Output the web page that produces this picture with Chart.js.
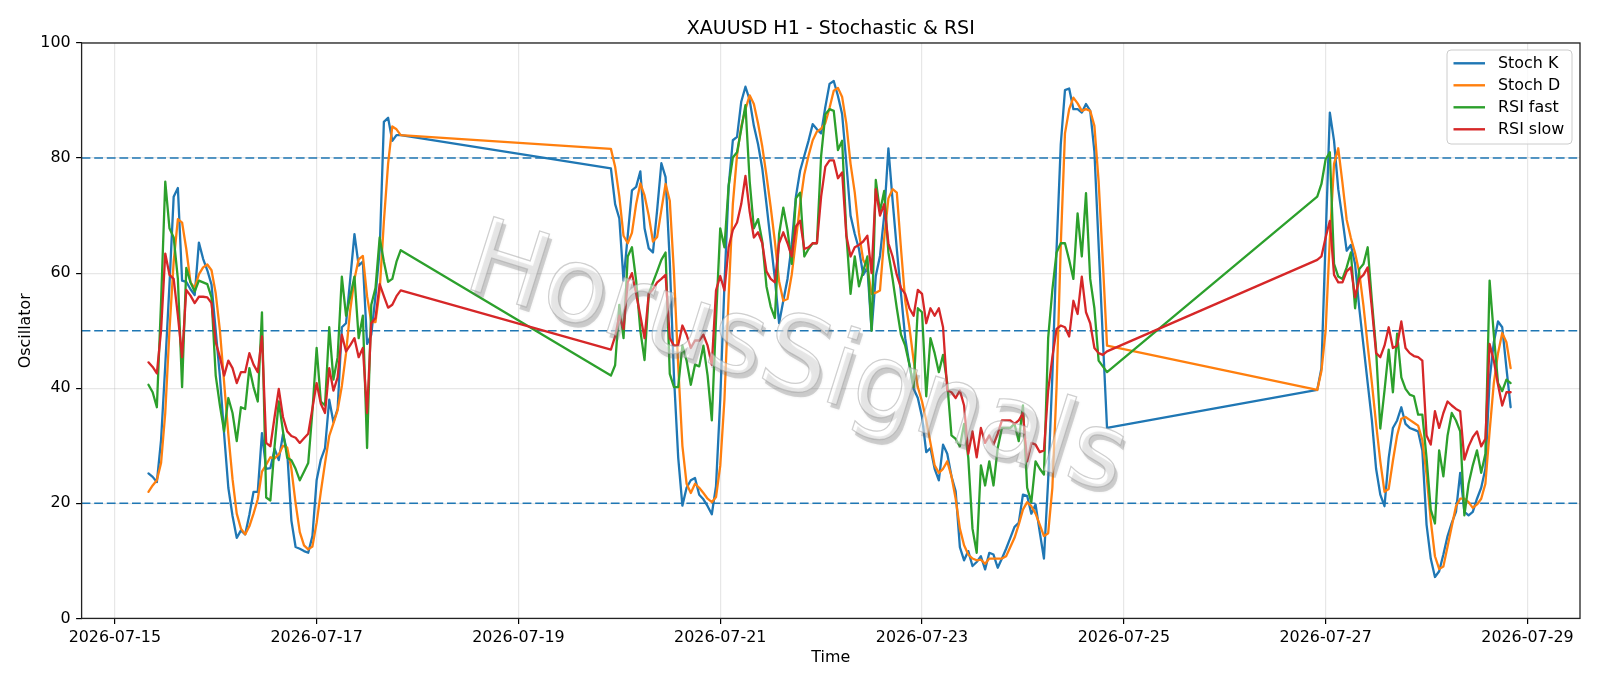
<!DOCTYPE html>
<html>
<head>
<meta charset="utf-8">
<script src="https://cdn.jsdelivr.net/npm/chart.js@4.4.1/dist/chart.umd.min.js"></script>
<style>
  html, body { margin: 0; padding: 0; background: #fff; }
  #wrap { width: 1600px; height: 686px; }
</style>
</head>
<body>
<div id="wrap"><canvas id="c" width="1600" height="686"></canvas></div>
<script>
// hourly bars; hours counted from 2026-07-15 00:00, weekends have no bars
const segStart = [8, 118, 286];
const segLength = [61, 119, 47];

const stochK = [
  25.2, 24.6, 23.7, 31, 44, 58, 73.3, 74.8, 58.7, 58.5,
  57.2, 56.2, 65.3, 62.5, 60.5, 58, 50, 42, 32, 22.7,
  17.8, 14, 15.3, 14.6, 18, 22, 22, 32.2, 26, 26.1,
  29.5, 27.5, 32, 29, 17, 12.4, 12.1, 11.7, 11.4, 14.3,
  24, 27.6, 29.6, 38, 34.1, 36.4, 50.6, 51.3, 59, 66.8,
  61.3, 62, 47.7, 49.3, 56, 64, 86.3, 87, 83, 84,
  84,
  78.2, 72, 69.5, 58.7, 66.5, 74.4, 75, 77.7, 67.8, 64.3,
  63.6, 71, 79.1, 76.7, 62, 42, 28, 19.6, 22.7, 24,
  24.4, 21.5, 20.7, 19.5, 18.1, 23, 38, 58, 75, 83.1,
  83.7, 89.8, 92.4, 90.1, 85.6, 82.4, 78.2, 72, 65.5, 59,
  51.3, 55.2, 59, 64.9, 73.3, 77.8, 80.4, 83, 85.9, 85,
  84.3, 88.9, 92.9, 93.4, 90.8, 87.6, 79.1, 70, 66.8, 64.2,
  59.7, 61, 50, 59.5, 63, 70, 81.7, 72.6, 64.2, 56.4,
  48.7, 44.1, 39.9, 38.3, 35, 28.9, 29.6, 26, 24, 30.2,
  28.6, 24.7, 22.1, 12.4, 10.1, 11.7, 9.1, 9.8, 10.8, 8.5,
  11.4, 11.1, 8.8, 10.4, 12.1, 14, 15.9, 16.6, 21.5, 21.3,
  18.2, 19.8, 15, 10.4, 24, 42.2, 64.2, 82.4, 91.8, 92.1,
  88.5, 88.5, 87.9, 89.4, 88.2, 81.1, 64.9, 48.7, 33.1,
  39.7, 43.5, 66, 87.9, 83, 74.6, 69.4, 63.9, 64.9, 61.6,
  53.9, 47.4, 40.9, 34.4, 26, 21.5, 19.5, 27.9, 33.1, 34.4,
  36.7, 33.8, 33.1, 32.8, 32.5, 29.2, 16.3, 10.4, 7.2, 8.2,
  11.1, 14.3, 16.6, 18.5, 25.3, 18.5, 17.9, 18.5, 20.8, 22.7,
  26, 41.5, 48, 51.6, 50.6, 43.5, 36.7
];

const stochD = [
  22, 23.1, 24, 27, 35.7, 50, 62, 69.4, 68.8, 64.2,
  58.4, 57.4, 59.8, 61, 61.5, 60.5, 56.5, 50, 41, 32,
  24.2, 18.2, 15.6, 14.6, 16, 18.2, 20.7, 25.5, 26.7, 28,
  27.8, 28.5, 30, 29.7, 26, 20, 15, 12.7, 12, 12.5,
  16.6, 22, 27, 31.7, 33.9, 36.2, 40.4, 46.1, 53.6, 59,
  62.4, 63, 56, 51.5, 51.5, 57, 69, 79, 85.5, 85,
  84,
  81.6, 78.5, 73.3, 66.5, 65.2, 67, 72, 75.6, 73.5, 70,
  65.5, 66.3, 71, 75.5, 72.6, 60, 44, 30, 23.4, 21.8,
  23.4, 22.7, 21.8, 20.8, 20.2, 21.1, 26.5, 38, 56, 72,
  80.5, 85.5, 88.5, 90.9, 89.4, 86, 82, 77, 71.5, 65.5,
  58.6, 55.2, 55.5, 59.7, 65.7, 72, 77.2, 80.4, 83.1, 84.6,
  85.1, 86.1, 88.7, 91.7, 92.2, 90.6, 86, 79, 74, 67,
  62.3, 61, 56.4, 56.6, 57, 66, 73, 74.6, 74, 64.2,
  55.2, 50.6, 44.8, 40.2, 37.7, 34.4, 30.5, 26.6, 25.3, 26,
  27.3, 24.7, 20.8, 15.6, 12.7, 11.1, 10.4, 10.1, 10.2, 9.5,
  10.4, 10.4, 10.4, 10.4, 10.8, 12.4, 14, 16.3, 18.9, 20.2,
  19.5, 18.2, 16.3, 14.3, 14.8, 22.7, 40.2, 64.9, 84.3, 88.5,
  90.5, 89.5, 88.2, 88.5, 88.2, 85.6, 76, 62, 47.4,
  39.7, 43, 50, 66, 79, 81.7, 75.7, 69.3, 66.1, 63.5,
  60.1, 54.3, 47.4, 40.9, 33.8, 27.3, 22, 22.5, 27.4, 31.8,
  34.7, 35, 34.5, 34, 33.5, 31, 25, 17, 10.8, 8.6,
  9, 12.5, 16, 19.5, 20.8, 20.8, 20.2, 19.2, 19.8, 20.8,
  23.4, 32.5, 40.9, 46.1, 49.6, 48, 43.5
];

const rsiFast = [
  40.6, 39.3, 36.7, 55, 75.9, 67.8, 66.2, 59, 40.2, 60.9,
  58.4, 56.8, 58.7, 58.4, 58.1, 55.8, 42.2, 37, 32.5, 38.3,
  35.7, 30.8, 36.7, 36.4, 43.5, 40.2, 37.7, 53.2, 21, 20.5,
  29.9, 37.7, 32.5, 27.9, 27.5, 26, 24, 25.5, 27, 36,
  47, 37.7, 37, 50.6, 41.5, 45.4, 59.4, 52.6, 56, 59.4,
  48.7, 52.6, 29.6, 54.5, 57.4, 66.2, 62, 58.5, 59, 62,
  64,
  42.2, 44, 54.5, 48.7, 62.9, 64.5, 58.7, 50, 44.9, 56.4,
  58.4, 60.3, 62.3, 63.6, 42.5, 40.2, 40.2, 47.4, 44.8, 40.6,
  44.1, 43.8, 47.4, 42.2, 34.4, 52, 67.8, 64.5, 75.2, 80.1,
  81, 85, 89.2, 76, 67.8, 69.4, 65.5, 57.7, 54.2, 52.2,
  66.8, 71.4, 67.5, 61.6, 73, 74, 62.9, 64.2, 65.2, 65.2,
  80.4, 87.6, 88.5, 88.2, 81.4, 83, 66.8, 56.4, 62.9, 57.7,
  60.3, 62.9, 50, 76.2, 70.7, 74.3, 63.6, 59, 53.9, 49.3,
  47.4, 44.1, 40.2, 53.9, 53.2, 38.6, 48.7, 46.1, 42.8, 45.8,
  40.9, 31.8, 31.2, 29.9, 33.8, 27.9, 15.6, 11.4, 26.6, 23.1,
  27.3, 23.1, 29.6, 33.1, 33.1, 33.1, 33.8, 30.8, 37, 22.7,
  20.2, 27.3, 26, 25, 48.7, 57.1, 63.6, 65.2, 65.2, 62.3,
  59, 70.4, 62.9, 73.9, 59, 53.9, 44.8, 43.8, 42.8,
  73.3, 75.5, 79.8, 81, 61.6, 59.4, 59, 61, 63.6, 53.9,
  60.7, 61.6, 64.5, 55.2, 46.7, 33, 39.6, 46.7, 39.3, 49.5,
  41.9, 39.9, 38.9, 38.6, 35.4, 35.4, 27.9, 18.9, 16.5, 29.2,
  24.7, 31.8, 35.7, 34.4, 32.5, 17.9, 23.4, 26.6, 29.2, 25.3,
  28.6, 58.7, 49.3, 40.9, 39.5, 41.5, 40.9
];

const rsiSlow = [
  44.5, 43.7, 42.6, 50, 63.4, 59.7, 59, 52.6, 45.4, 57.1,
  56.1, 54.8, 55.9, 55.9, 55.8, 54.8, 48, 45.4, 42.2, 44.8,
  43.5, 40.9, 42.8, 42.8, 46.1, 44.1, 42.8, 49, 30.5, 29.9,
  35, 39.9, 35, 32.5, 31.7, 31.4, 30.5, 31.3, 32.1, 36.5,
  40.9, 37.3, 35.7, 43.5, 39.6, 41.9, 49.3, 46.4, 47.5, 48.7,
  45.4, 47, 35.7, 51.3, 52.2, 58.1, 56, 54, 54.5, 56,
  57,
  46.7, 49, 52.6, 50.3, 58.4, 60, 56.4, 52.6, 48.7, 56.4,
  57.2, 58.4, 59, 59.7, 48.7, 47.4, 47.5, 50.9, 49.3, 47,
  48.3, 48.3, 49.3, 47.4, 44.1, 57, 59.5, 57, 64.5, 67.5,
  68.8, 72, 76.9, 70.7, 66.2, 67.1, 65.2, 60.3, 59, 58.4,
  65.2, 67.1, 65.2, 62.9, 68.1, 69.1, 64.2, 64.5, 65.2, 65.2,
  73.3, 78.5, 79.6, 79.6, 76.5, 77.5, 66.5, 62.9, 64.5, 64.9,
  65.5, 66.5, 60, 74.6, 70, 72, 65.2, 62.9, 59.7, 57.4,
  56.4, 53.9, 52.6, 57.1, 56.4, 51.3, 53.9, 52.6, 53.9, 50.6,
  39.6, 39.3, 38.3, 39.6, 37, 28.6, 32.5, 28, 33.1, 30.5,
  31.8, 30.2, 32.1, 34.4, 34.4, 34.4, 33.8, 34.4, 35.7, 27.3,
  30.5, 30.2, 28.9, 29.2, 39.6, 45.4, 50.3, 50.9, 50.6, 49,
  55.2, 52.9, 59.4, 53.2, 51.3, 47, 46.1, 45.8, 46.4,
  62.3, 62.9, 66.2, 69.1, 59.7, 58.4, 58.4, 60.3, 61, 55.8,
  59, 59.7, 61, 53.9, 46.1, 45.4, 47.4, 50.6, 47, 47.4,
  51.6, 47, 46.1, 45.6, 45.4, 44.8, 31.8, 30.2, 36, 33.1,
  35.7, 37.7, 37, 36.4, 36, 27.6, 29.9, 31.5, 32.5, 29.9,
  31.2, 47.7, 44.8, 40.6, 37, 39.3, 39.3
];

const levels = [20, 50, 80];
const xTickHours = [0, 48, 96, 144, 192, 240, 288, 336];
const xTickLabels = ['2026-07-15', '2026-07-17', '2026-07-19', '2026-07-21',
  '2026-07-23', '2026-07-25', '2026-07-27', '2026-07-29'];

const hours = [];
segStart.forEach((s, i) => {
  for (let k = 0; k < segLength[i]; k++) hours.push(s + k);
});
const pts = arr => arr.map((v, i) => ({x: hours[i], y: v}));

const font = 'DejaVu Sans';

const extras = {
  id: 'extras',
  beforeDatasetsDraw(chart) {
    const {ctx, chartArea: a, scales: {y}} = chart;
    ctx.save();
    ctx.strokeStyle = '#1f77b4';
    ctx.lineWidth = 1.5;
    ctx.setLineDash([8.8, 3.8]);
    levels.forEach(v => {
      const py = y.getPixelForValue(v);
      ctx.beginPath();
      ctx.moveTo(a.left, py);
      ctx.lineTo(a.right, py);
      ctx.stroke();
    });
    ctx.restore();
  },
  afterDatasetsDraw(chart) {
    const {ctx, chartArea: a} = chart;
    // watermark
    ctx.save();
    ctx.beginPath();
    ctx.rect(a.left, a.top, a.right - a.left, a.bottom - a.top);
    ctx.clip();
    ctx.translate(a.left + 0.4767 * (a.right - a.left), a.top + 0.557 * (a.bottom - a.top));
    ctx.rotate(17.5 * Math.PI / 180);
    ctx.font = '105px "' + font + '"';
    ctx.textAlign = 'center';
    ctx.textBaseline = 'middle';
    ctx.shadowColor = 'rgba(0,0,0,0.25)';
    ctx.shadowBlur = 3;
    ctx.fillStyle = 'rgba(120,120,120,0.3)';
    ctx.fillText('HorusSignals', 4, 4);
    ctx.shadowColor = 'transparent';
    ctx.fillStyle = 'rgba(255,255,255,0.5)';
    ctx.fillText('HorusSignals', 0, 0);
    ctx.strokeStyle = 'rgba(160,160,160,0.5)';
    ctx.lineWidth = 1.2;
    ctx.strokeText('HorusSignals', 0, 0);
    ctx.restore();
  },
  afterDraw(chart) {
    const {ctx, chartArea: a} = chart;
    ctx.save();
    // frame
    ctx.strokeStyle = '#222';
    ctx.lineWidth = 1.3;
    ctx.strokeRect(a.left, a.top, a.right - a.left, a.bottom - a.top);
    // title
    ctx.fillStyle = '#000';
    ctx.font = '19px "' + font + '"';
    ctx.textAlign = 'center';
    ctx.textBaseline = 'alphabetic';
    ctx.fillText('XAUUSD H1 - Stochastic & RSI', (a.left + a.right) / 2, a.top - 9.5);
    // legend
    const bw = 125, bh = 94;
    const bx = a.right - 8 - bw, by = a.top + 7;
    ctx.beginPath();
    ctx.roundRect(bx, by, bw, bh, 4);
    ctx.fillStyle = 'rgba(255,255,255,0.8)';
    ctx.fill();
    ctx.strokeStyle = '#cccccc';
    ctx.lineWidth = 1;
    ctx.stroke();
    ctx.font = '15.9px "' + font + '"';
    ctx.textAlign = 'left';
    ctx.textBaseline = 'middle';
    chart.data.datasets.forEach((ds, i) => {
      const ry = by + 13.3 + i * 22;
      ctx.strokeStyle = ds.borderColor;
      ctx.lineWidth = 2.4;
      ctx.beginPath();
      ctx.moveTo(bx + 6.5, ry);
      ctx.lineTo(bx + 38, ry);
      ctx.stroke();
      ctx.fillStyle = '#000';
      ctx.fillText(ds.label, bx + 51, ry + 1);
    });
    ctx.restore();
  }
};

const tickFont = {family: font, size: 15.9};

new Chart(document.getElementById('c'), {
  type: 'line',
  data: {
    datasets: [
      {label: 'Stoch K', data: pts(stochK), borderColor: '#1f77b4', order: 3},
      {label: 'Stoch D', data: pts(stochD), borderColor: '#ff7f0e', order: 2},
      {label: 'RSI fast', data: pts(rsiFast), borderColor: '#2ca02c', order: 1},
      {label: 'RSI slow', data: pts(rsiSlow), borderColor: '#d62728', order: 0}
    ]
  },
  options: {
    responsive: false,
    animation: false,
    devicePixelRatio: 1,
    layout: {padding: {left: 0, right: 20, top: 43, bottom: 0}},
    elements: {
      point: {radius: 0},
      line: {borderWidth: 2.3, tension: 0, fill: false, borderJoinStyle: 'round', borderCapStyle: 'round'}
    },
    plugins: {
      legend: {display: false},
      title: {display: false},
      tooltip: {enabled: false}
    },
    scales: {
      x: {
        type: 'linear',
        min: -7.9,
        max: 348.5,
        afterBuildTicks: s => { s.ticks = xTickHours.map(v => ({value: v})); },
        afterFit: s => { s.height = 67.6; },
        ticks: {
          callback: v => xTickLabels[xTickHours.indexOf(v)],
          font: tickFont, color: '#000', padding: 4, maxRotation: 0, autoSkip: false
        },
        grid: {color: 'rgba(176,176,176,0.3)', lineWidth: 1.2, tickColor: '#000', tickLength: 5.5, tickWidth: 1.2},
        border: {display: false},
        title: {display: true, text: 'Time', font: tickFont, color: '#000', padding: {top: 0, bottom: 18.5}}
      },
      y: {
        min: 0,
        max: 100,
        afterFit: s => { s.width = 81.6; },
        ticks: {stepSize: 20, font: tickFont, color: '#000', padding: 5.5},
        grid: {color: 'rgba(176,176,176,0.3)', lineWidth: 1.2, tickColor: '#000', tickLength: 5.5, tickWidth: 1.2},
        border: {display: false},
        title: {display: true, text: 'Oscillator', font: tickFont, color: '#000', padding: {top: 16, bottom: 0}}
      }
    }
  },
  plugins: [extras]
});
</script>
</body>
</html>
